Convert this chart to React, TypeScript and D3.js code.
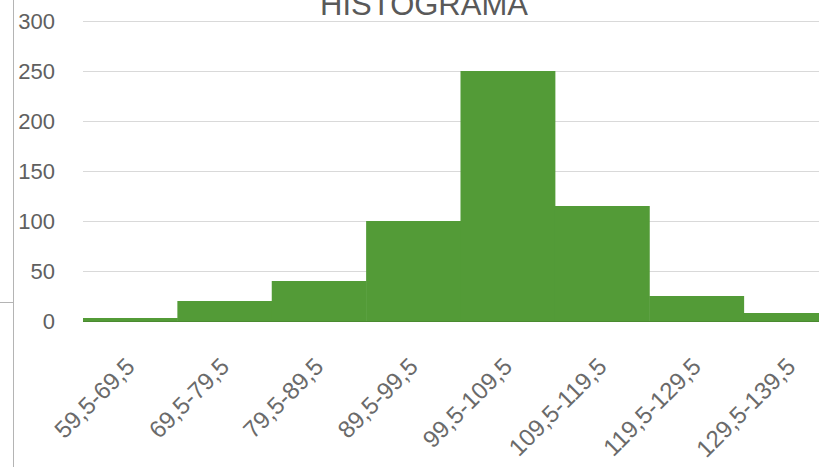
import React from 'react';
import * as d3 from 'd3';

const categories = ['59,5-69,5', '69,5-79,5', '79,5-89,5', '89,5-99,5', '99,5-109,5', '109,5-119,5', '119,5-129,5', '129,5-139,5'];
const frequencies = [3, 20, 40, 100, 250, 115, 25, 8];
const yTicks = [0, 50, 100, 150, 200, 250, 300];

const width = 819;
const height = 467;
const font = '"Liberation Sans", Arial, sans-serif';

const App = () => {
  const x = d3.scaleBand<string>()
    .domain(categories)
    .range([83, 838])
    .padding(0);
  const y = d3.scaleLinear()
    .domain([0, 300])
    .range([321, 21]);

  return (
    <svg width={width} height={height} style={{ position: 'absolute', left: 0, top: 0, background: '#fff' }}>
      {/* outer frame fragments */}
      <line x1={13.5} y1={0} x2={13.5} y2={height} stroke="#b4b4b4" />
      <line x1={0} y1={302.5} x2={13.5} y2={302.5} stroke="#b4b4b4" />

      <text x={424} y={15} textAnchor="middle" fontFamily={font} fontSize={31} fill="#595959">
        HISTOGRAMA
      </text>

      <g className="grid">
        {yTicks.map(t => (
          <line key={t} x1={83} x2={width} y1={Math.round(y(t)) + 0.5} y2={Math.round(y(t)) + 0.5} stroke="#d9d9d9" />
        ))}
      </g>

      <g className="y-labels">
        {yTicks.map(t => (
          <text key={t} x={55} y={y(t)} dy=".36em" textAnchor="end" fontFamily={font} fontSize={22} fill="#606060">
            {t}
          </text>
        ))}
      </g>

      <g className="bars">
        {categories.map((c, i) => (
          <rect
            key={c}
            x={x(c)}
            y={y(frequencies[i])}
            width={x.bandwidth() + 0.5}
            height={y(0) - y(frequencies[i])}
            fill="#539b37"
          />
        ))}
      </g>
      <line x1={83} x2={width} y1={321.5} y2={321.5} stroke="#4a8a30" strokeWidth={1} />

      <g className="x-labels">
        {categories.map(c => {
          const cx = (x(c) as number) + x.bandwidth() / 2;
          return (
            <text
              key={c}
              transform={`translate(${cx},${362}) rotate(-45)`}
              textAnchor="end"
              dy=".36em"
              fontFamily={font}
              fontSize={24}
              fill="#6a6a6a"
            >
              {c}
            </text>
          );
        })}
      </g>
    </svg>
  );
};

export default App;
